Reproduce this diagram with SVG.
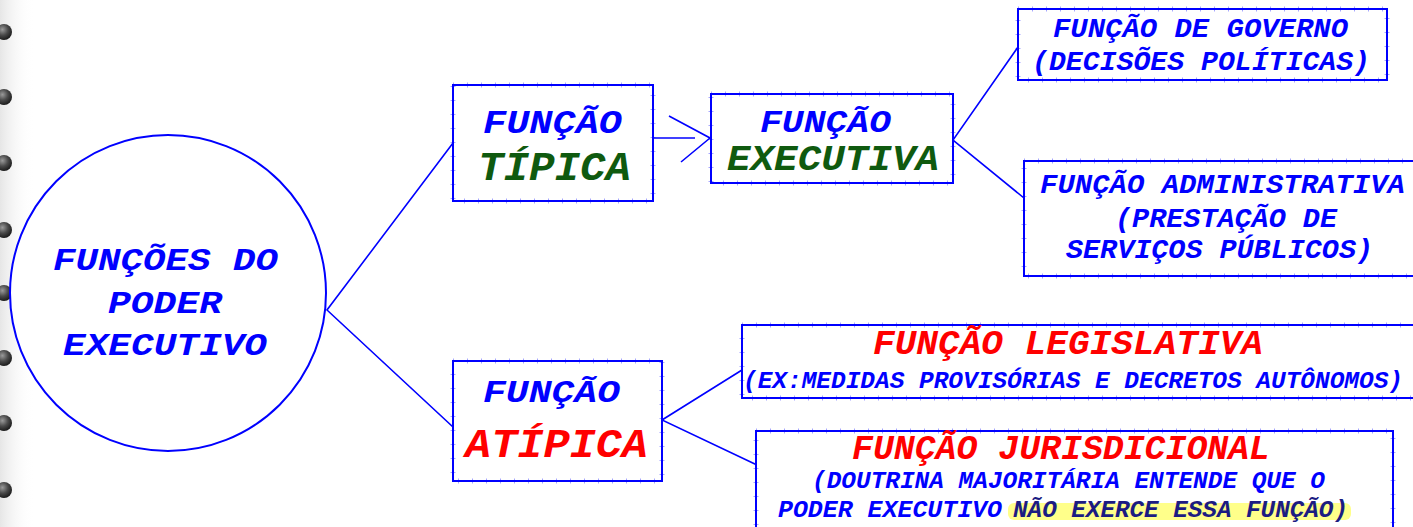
<svg xmlns="http://www.w3.org/2000/svg" width="1413" height="527" viewBox="0 0 1413 527">
<style>
.box{fill:#fff;stroke:#0000ff;stroke-width:2}
.tick{fill:none;stroke:#0000ff;stroke-width:5;stroke-dasharray:1 13;opacity:.35}
.t{font-family:"Liberation Mono","Courier New",monospace;font-weight:bold;font-style:italic}
.b{fill:#0000ff}
.r{fill:#ff0000}
.g{fill:#0f5a0f}
.n{fill:#1c1c82}
.con{fill:none;stroke:#0000ff;stroke-width:1.6}
</style>
<defs>
<radialGradient id="dot" cx="0.4" cy="0.35" r="0.7">
<stop offset="0" stop-color="#9a9a9a"/>
<stop offset="0.5" stop-color="#4a4a4a"/>
<stop offset="1" stop-color="#151515"/>
</radialGradient>
<linearGradient id="shade" x1="0" x2="1" y1="0" y2="0">
<stop offset="0" stop-color="#e6e6e6"/>
<stop offset="1" stop-color="#ffffff" stop-opacity="0"/>
</linearGradient>
</defs>
<rect width="1413" height="527" fill="#fff"/>
<rect x="0" y="0" width="34" height="527" fill="url(#shade)"/>
<g id="binding">
<circle cx="4" cy="32" r="8" fill="url(#dot)"/>
<circle cx="4" cy="97" r="8" fill="url(#dot)"/>
<circle cx="4" cy="163" r="8" fill="url(#dot)"/>
<circle cx="4" cy="230" r="8" fill="url(#dot)"/>
<circle cx="4" cy="293" r="8" fill="url(#dot)"/>
<circle cx="4" cy="358" r="8" fill="url(#dot)"/>
<circle cx="4" cy="423" r="8" fill="url(#dot)"/>
<circle cx="4" cy="490" r="8" fill="url(#dot)"/>
</g>
<g id="connectors">
<polyline class="con" points="453,143 327,310 453,427"/>
<line class="con" x1="653" y1="138" x2="695" y2="138"/>
<polyline class="con" points="669,116 710,138 681,162"/>
<polyline class="con" points="1018,47 953,140 1024,198"/>
<polyline class="con" points="742,370 662,420 757,465"/>
</g>
<g id="root">
<circle cx="168" cy="293" r="158" fill="#fff" stroke="#0000ff" stroke-width="2"/>
<text class="t b" font-size="32" x="53" y="270" textLength="225" lengthAdjust="spacingAndGlyphs">FUNÇÕES DO</text>
<text class="t b" font-size="32" x="108" y="313" textLength="114" lengthAdjust="spacingAndGlyphs">PODER</text>
<text class="t b" font-size="32" x="63" y="355" textLength="204" lengthAdjust="spacingAndGlyphs">EXECUTIVO</text>
</g>
<g id="tipica">
<rect class="box" x="453" y="85" width="200" height="116"/>
<rect class="tick" x="453" y="85" width="200" height="116"/>
<text class="t b" font-size="33" x="483" y="133" textLength="139" lengthAdjust="spacingAndGlyphs">FUNÇÃO</text>
<text class="t g" font-size="40" x="478" y="180" textLength="153" lengthAdjust="spacingAndGlyphs">TÍPICA</text>
</g>
<g id="executiva">
<rect class="box" x="711" y="94" width="242" height="89"/>
<rect class="tick" x="711" y="94" width="242" height="89"/>
<text class="t b" font-size="32" x="760" y="132" textLength="131" lengthAdjust="spacingAndGlyphs">FUNÇÃO</text>
<text class="t g" font-size="37" x="727" y="170" textLength="212" lengthAdjust="spacingAndGlyphs">EXECUTIVA</text>
</g>
<g id="governo">
<rect class="box" x="1018" y="9" width="369" height="71"/>
<rect class="tick" x="1018" y="9" width="369" height="71"/>
<text class="t b" font-size="28" x="1053" y="37" textLength="295" lengthAdjust="spacingAndGlyphs">FUNÇÃO DE GOVERNO</text>
<text class="t b" font-size="28" x="1032" y="70" textLength="338" lengthAdjust="spacingAndGlyphs">(DECISÕES POLÍTICAS)</text>
</g>
<g id="administrativa">
<rect class="box" x="1024" y="161" width="400" height="115"/>
<rect class="tick" x="1024" y="161" width="400" height="115"/>
<text class="t b" font-size="28" x="1040" y="193" textLength="365" lengthAdjust="spacingAndGlyphs">FUNÇÃO ADMINISTRATIVA</text>
<text class="t b" font-size="28" x="1115" y="227" textLength="222" lengthAdjust="spacingAndGlyphs">(PRESTAÇÃO DE</text>
<text class="t b" font-size="28" x="1066" y="258" textLength="307" lengthAdjust="spacingAndGlyphs">SERVIÇOS PÚBLICOS)</text>
</g>
<g id="atipica">
<rect class="box" x="453" y="361" width="209" height="120"/>
<rect class="tick" x="453" y="361" width="209" height="120"/>
<text class="t b" font-size="32" x="483" y="402" textLength="137" lengthAdjust="spacingAndGlyphs">FUNÇÃO</text>
<text class="t r" font-size="41" x="465" y="457" textLength="183" lengthAdjust="spacingAndGlyphs">ATÍPICA</text>
</g>
<g id="legislativa">
<rect class="box" x="742" y="325" width="690" height="73"/>
<rect class="tick" x="742" y="325" width="690" height="73"/>
<text class="t r" font-size="35" x="873" y="354" textLength="390" lengthAdjust="spacingAndGlyphs">FUNÇÃO LEGISLATIVA</text>
<text class="t b" font-size="24" x="743" y="388" textLength="660" lengthAdjust="spacingAndGlyphs">(EX:MEDIDAS PROVISÓRIAS E DECRETOS AUTÔNOMOS)</text>
</g>
<g id="jurisdicional">
<rect class="box" x="756" y="431" width="637" height="110"/>
<rect class="tick" x="756" y="431" width="637" height="110"/>
<text class="t r" font-size="35" x="852" y="459" textLength="418" lengthAdjust="spacingAndGlyphs">FUNÇÃO JURISDICIONAL</text>
<text class="t b" font-size="24" x="812" y="488" textLength="513" lengthAdjust="spacingAndGlyphs">(DOUTRINA MAJORITÁRIA ENTENDE QUE O</text>
<rect x="1008" y="503" width="343" height="17" rx="6" fill="#ffff8a"/>
<text class="t" font-size="24" y="517"><tspan class="b" x="778" textLength="224" lengthAdjust="spacingAndGlyphs">PODER EXECUTIVO</tspan><tspan class="n" x="1013" textLength="335" lengthAdjust="spacingAndGlyphs">NÃO EXERCE ESSA FUNÇÃO)</tspan></text>
</g>
</svg>
